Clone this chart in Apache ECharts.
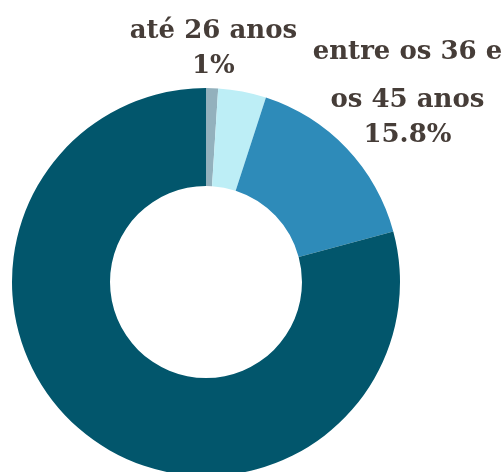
<!DOCTYPE html>
<html>
<head>
<meta charset="utf-8">
<script src="https://cdn.jsdelivr.net/npm/echarts@6/dist/echarts.min.js"></script>
<style>
  html, body { margin: 0; padding: 0; background: #fff; }
  #chart { width: 503px; height: 472px; }
</style>
</head>
<body>
<div id="chart"></div>
<script>
// faixas etárias e percentagens
const categories = ['até 26 anos', 'entre os 26 e os 35 anos', 'entre os 36 e os 45 anos', 'mais de 45 anos'];
const labelLines = [['até 26 anos'], [], ['entre os 36 e', 'os 45 anos'], []];
const values = [1, 4, 15.8, 79.2];
const showLabel = [true, false, true, false];
const lineLength = [42, 0, 84, 0];
const colors = ['#93b1bd', '#bdeef6', '#2e8bb9', '#02566c'];

const chart = echarts.init(document.getElementById('chart'));

const data = categories.map((name, i) => ({
    name: name,
    value: values[i],
    itemStyle: { color: colors[i] },
    label: { show: showLabel[i] },
    labelLine: { show: false, length: lineLength[i], length2: 0 }
}));

const txt = { fontFamily: 'DejaVu Serif', fontWeight: 'bold', fontSize: 26, color: '#463d38', align: 'center' };

chart.setOption({
    animation: false,
    series: [{
        type: 'pie',
        center: [206, 282],
        radius: [96, 194],
        startAngle: 90,
        clockwise: true,
        avoidLabelOverlap: false,
        itemStyle: { borderWidth: 0 },
        label: {
            position: 'outside',
            color: '#463d38',
            fontFamily: 'DejaVu Serif',
            fontWeight: 'bold',
            fontSize: 26,
            formatter: p => labelLines[p.dataIndex].map(s => '{n|' + s + '}').join('\n') + '\n{v|' + p.value + '%}',
            rich: {
                n: Object.assign({ lineHeight: 48 }, txt),
                v: Object.assign({ lineHeight: 22 }, txt)
            }
        },
        // centra o bloco de texto no ponto de ancoragem
        labelLayout: function (params) {
            const r = params.labelRect;
            return {
                x: r.x - 5,
                y: r.y + r.height / 2 - 10,
                align: 'center'
            };
        },
        data: data
    }]
});
</script>
</body>
</html>
